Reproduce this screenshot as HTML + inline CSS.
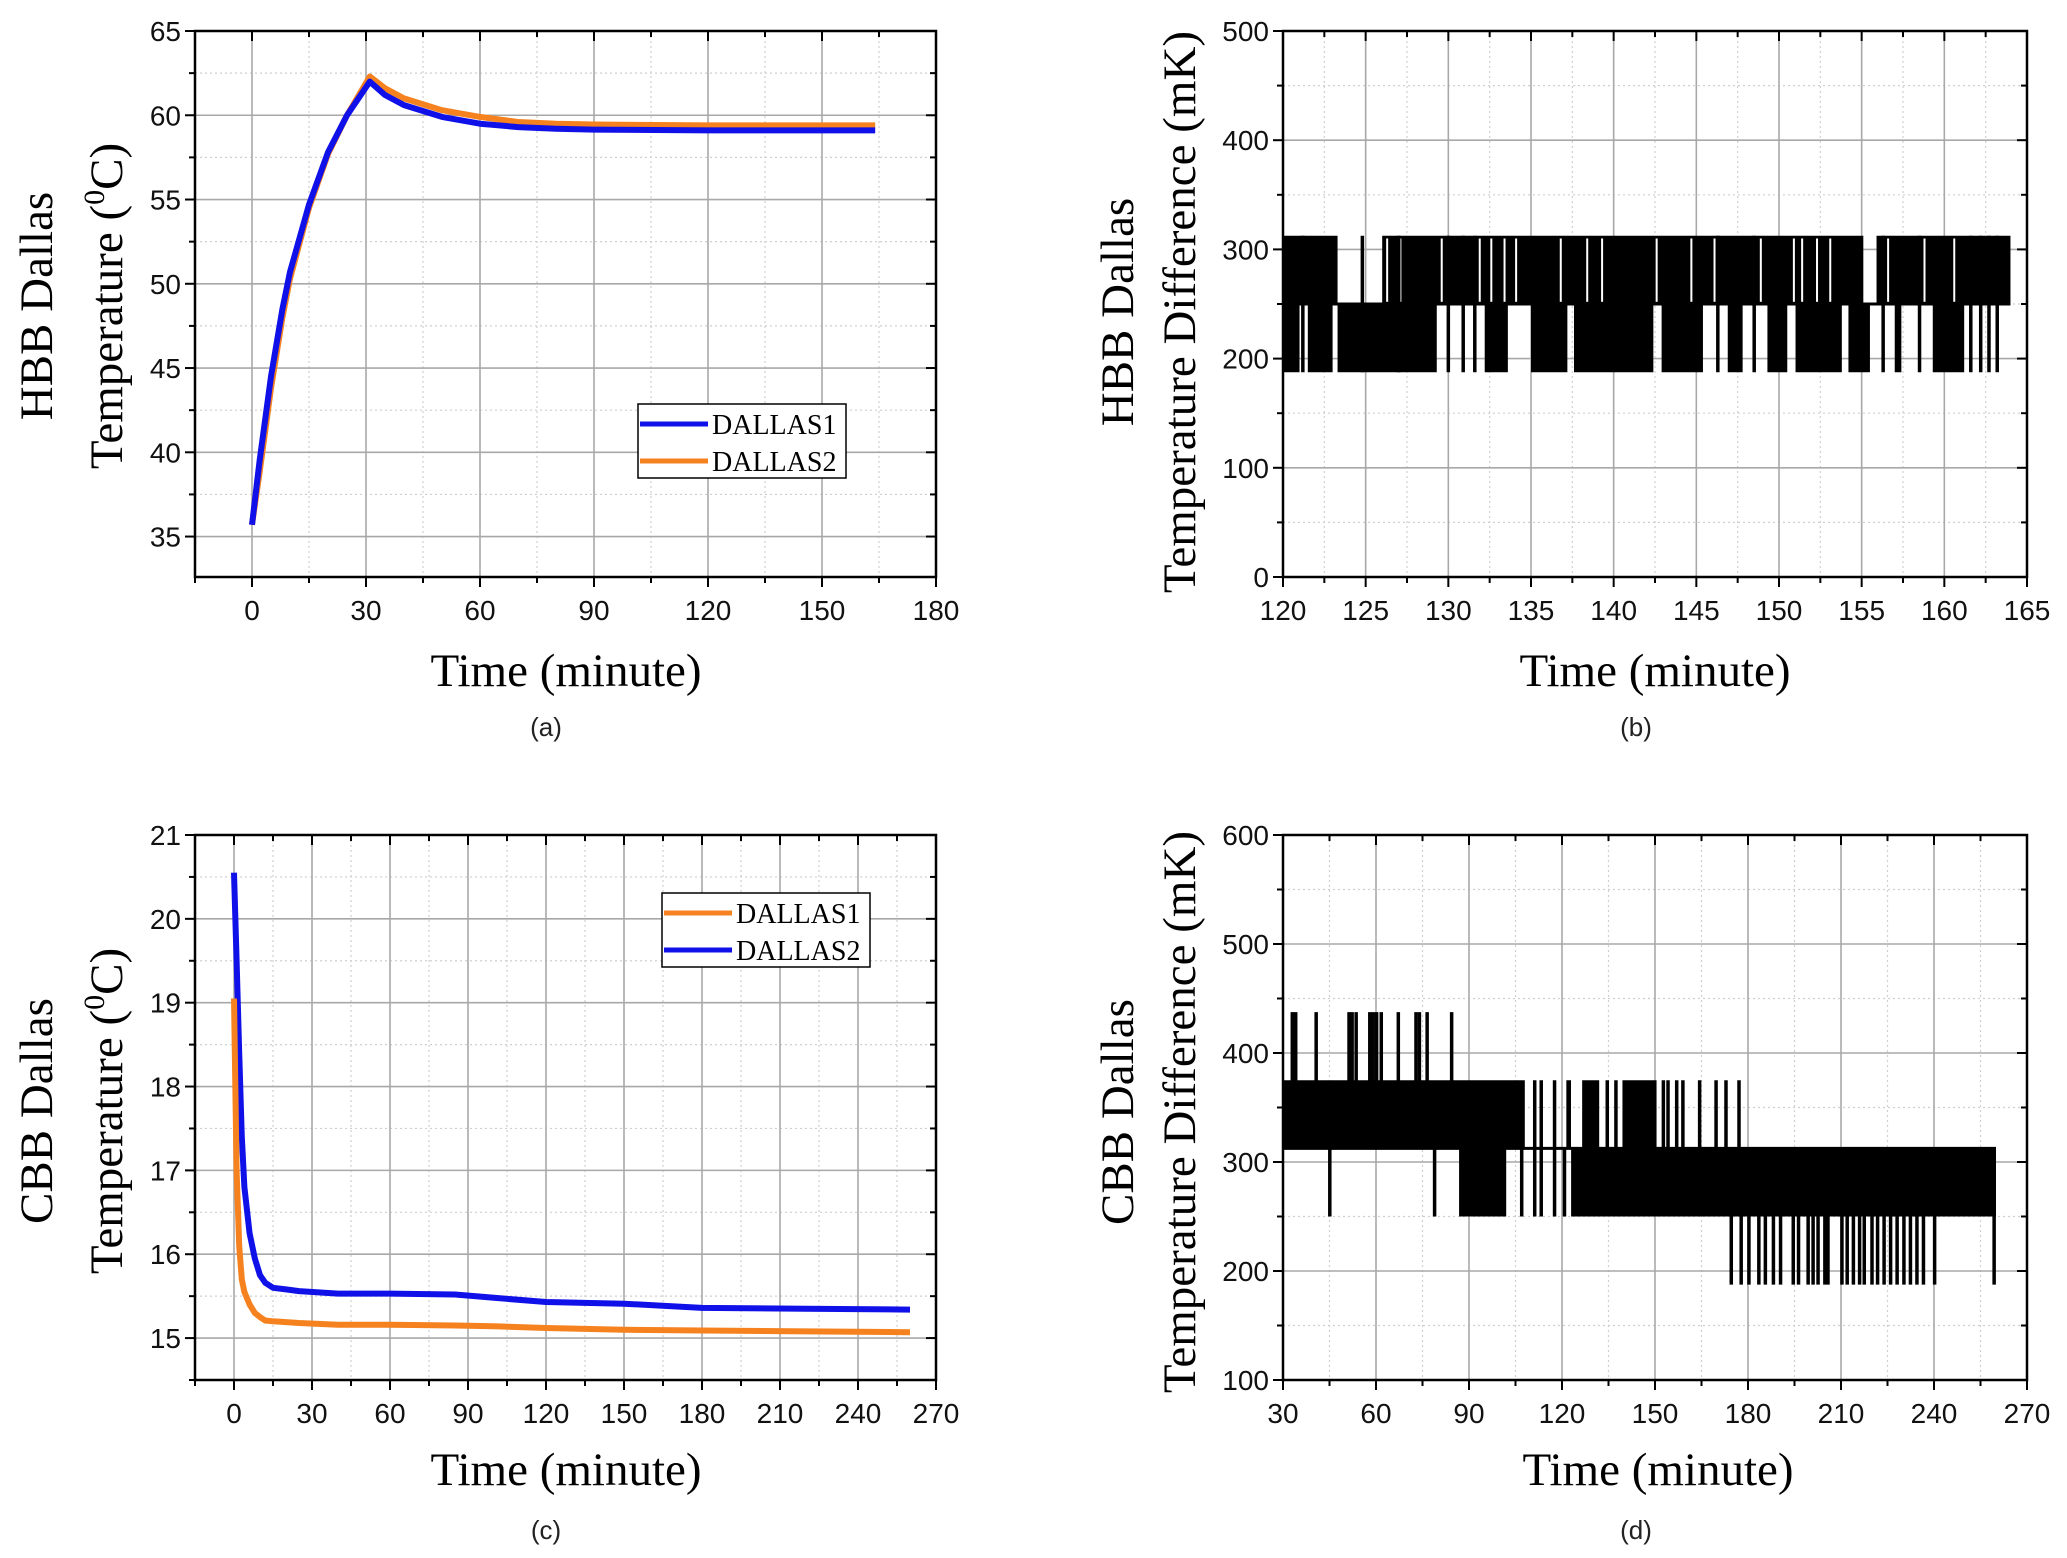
<!DOCTYPE html>
<html><head><meta charset="utf-8"><style>
html,body{margin:0;padding:0;background:#fff;}
svg{display:block;}
.tk{font-family:"Liberation Sans",sans-serif;font-size:28px;fill:#111;}
.ti{font-family:"Liberation Serif",serif;font-size:47px;fill:#000;}
.cap{font-family:"Liberation Sans",sans-serif;font-size:26px;fill:#222;}
.lg{font-family:"Liberation Serif",serif;font-size:28px;fill:#000;}
</style></head><body>
<svg id="fig" width="2067" height="1558" viewBox="0 0 2067 1558" xmlns="http://www.w3.org/2000/svg"></svg>
<script>
// ---- Panel (a) data ----
const aTime = [0,2,5,8,10,15,20,25,31,35,40,50,60,70,80,90,120,164];
const aDallas1 = [35.7,39.5,44.5,48.5,50.7,54.7,57.8,60.0,62.0,61.2,60.6,59.9,59.5,59.3,59.2,59.15,59.1,59.1];
const aDallas2 = [35.7,38.8,43.8,48.0,50.3,54.5,57.7,60.0,62.3,61.6,61.0,60.3,59.9,59.6,59.5,59.45,59.4,59.4];
const aXTicks = [0,30,60,90,120,150,180];
const aYTicks = [35,40,45,50,55,60,65];
// ---- Panel (c) data ----
const cTime = [0,1,2,3,4,6,8,10,12,15,20,25,40,60,85,100,120,150,180,220,260];
const cDallas1 = [19.05,17.0,16.1,15.7,15.55,15.4,15.3,15.25,15.21,15.2,15.19,15.18,15.16,15.16,15.15,15.14,15.12,15.1,15.09,15.08,15.07];
const cDallas2 = [20.55,19.5,18.4,17.4,16.8,16.25,15.95,15.75,15.66,15.6,15.58,15.56,15.53,15.53,15.52,15.48,15.43,15.41,15.36,15.35,15.34];
const cXTicks = [0,30,60,90,120,150,180,210,240,270];
const cYTicks = [15,16,17,18,19,20,21];
// ---- Panel (b) data (mK) ----
const bTopBands = [[120,123.3],[126,155.1],[155.9,164]];
const bTopRange = [250,312.5];
const bLowBands = [[120,121],[121.5,123],[123.3,129.3],[132.2,133.6],[135,137.2],[137.6,142.4],[142.9,145.4],[146.9,147.8],[149.3,150.5],[151,153.8],[154.2,155.5],[157,157.4],[159.3,161.2]];
const bLowRange = [187.5,250];
const bSpikesDown = [121.2,130,130.9,131.6,146.3,148.5,156.3,158.5,161.6,162.2,162.7,163.2];
const bSpikesUp = [124.8,127.0];
const bGapsTop = [126.3,127.1,129.6,131.9,132.6,133.4,134.1,136.8,138.4,139.3,142.6,144.7,146.1,148.9,150.9,151.4,152.3,153.1,156.6,158.8,160.6];
const bXTicks = [120,125,130,135,140,145,150,155,160,165];
const bYTicks = [0,100,200,300,400,500];
// ---- Panel (d) data (mK) ----
const dUpBands = [[30,108],[121.4,122.9],[126.5,132],[139.5,150.5]];
const dUpRange = [312.5,375];
const dLowBands = [[86.8,102],[124,260]];
const dLowRange = [250,312.5];
const dUpSpikes = [111.2,113.3,117.6,134.6,137.4,152.7,154.2,157,159,164.4,169.7,172.9,177.1];
const dHighSpikes = [33,34.1,40.7,51.3,52.3,53.6,58,59.1,60.2,61.7,67.2,72.9,74,76.5,84.4];
const dDownSpikes250 = [45.1,78.9,107,111.2,113.3,117.6,120.8,123.5];
const dDownSpikes187 = [174.6,177.8,180.3,183.5,185.6,188.2,190.5,194.6,196.3,199.4,201,202.6,204.8,205.8,210.3,212,214,216,217.5,220,221.8,223.9,226,228.1,230.3,232.4,234.5,236.6,240.2,259.4];
const dXTicks = [30,60,90,120,150,180,210,240,270];
const dYTicks = [100,200,300,400,500,600];

const NS="http://www.w3.org/2000/svg";
const svg=document.getElementById('fig');
function mk(tag,attrs,parent){const e=document.createElementNS(NS,tag);for(const k in attrs)e.setAttribute(k,attrs[k]);(parent||svg).appendChild(e);return e;}

function panel(id,P,xt,yt){
  const g=mk('g',{});
  
  
  const sx=v=>P.L+(v-P.x0)/(P.x1-P.x0)*(P.R-P.L);
  const sy=v=>P.B-(v-P.y0)/(P.y1-P.y0)*(P.B-P.T);
  const dx=xt[1]-xt[0], dy=yt[1]-yt[0];
  for(let v=xt[0]-dx/2; v<=P.x1; v+=dx){ if(v<=P.x0) continue; const l=mk('line',{x1:sx(v),x2:sx(v),y1:P.T,y2:P.B,stroke:'#cfcfcf','stroke-width':1.2,'stroke-dasharray':'2,3'},g);   }
  for(let v=yt[0]-dy/2; v<=P.y1; v+=dy){ if(v<=P.y0) continue; const l=mk('line',{x1:P.L,x2:P.R,y1:sy(v),y2:sy(v),stroke:'#cfcfcf','stroke-width':1.2,'stroke-dasharray':'2,3'},g);   }
  xt.forEach(v=>{ const l=mk('line',{x1:sx(v),x2:sx(v),y1:P.T,y2:P.B,stroke:'#a8a8a8','stroke-width':1.6},g);   });
  yt.forEach(v=>{ const l=mk('line',{x1:P.L,x2:P.R,y1:sy(v),y2:sy(v),stroke:'#a8a8a8','stroke-width':1.6},g);   });
  return {g,sx,sy,dx,dy};
}
function frame(id,P,xt,yt,ctx){
  const {g,sx,sy,dx,dy}=ctx;
  const f=mk('rect',{x:P.L,y:P.T,width:P.R-P.L,height:P.B-P.T,fill:'none',stroke:'#000','stroke-width':2.5},g);
   
  for(let v=xt[0]-dx/2; v<=P.x1+1e-9; v+=dx/2){ if(v<P.x0-1e-9) continue; const maj=xt.some(t=>Math.abs(t-v)<1e-6); const len=maj?10:6;
    const t1=mk('line',{x1:sx(v),x2:sx(v),y1:P.B,y2:P.B+len,stroke:'#000','stroke-width':2},g);  
    const t2=mk('line',{x1:sx(v),x2:sx(v),y1:P.T,y2:P.T+len,stroke:'#000','stroke-width':2},g);   }
  for(let v=yt[0]-dy/2; v<=P.y1+1e-9; v+=dy/2){ if(v<P.y0-1e-9) continue; const maj=yt.some(t=>Math.abs(t-v)<1e-6); const len=maj?10:6;
    const t1=mk('line',{x1:P.L-len,x2:P.L,y1:sy(v),y2:sy(v),stroke:'#000','stroke-width':2},g);  
    const t2=mk('line',{x1:P.R-len,x2:P.R,y1:sy(v),y2:sy(v),stroke:'#000','stroke-width':2},g);   }
  xt.forEach(v=>{ const t=mk('text',{x:sx(v),y:P.B+43,'text-anchor':'middle',class:'tk'},g); t.textContent=v;
      });
  yt.forEach(v=>{ const t=mk('text',{x:P.L-14,y:sy(v)+10,'text-anchor':'end',class:'tk'},g); t.textContent=v;
      });
}
function titles(id,xt,xc,xb,y1,y1x,y2parts,y2x,yc,cap,cx,cb){
  const t=mk('text',{x:xc,y:xb,'text-anchor':'middle',class:'ti'}); t.textContent=xt;
   
  const a=mk('text',{x:0,y:0,'text-anchor':'middle',class:'ti',transform:`translate(${y1x},${yc}) rotate(-90)`}); a.textContent=y1;
   
  const b=mk('text',{x:0,y:0,'text-anchor':'middle',class:'ti',transform:`translate(${y2x},${yc}) rotate(-90)`});
   
  y2parts.forEach(p=>{const s=mk('tspan',p.sup?{'font-size':30,dy:-18}:(p.after?{dy:18}:{}),b); s.textContent=p.t;});
  const c=mk('text',{x:cx,y:cb,'text-anchor':'middle',class:'cap'}); c.textContent=cap;
   
}
function series(ctx,xs,ys,color,name){
  const d=xs.map((x,i)=>(i?'L':'M')+ctx.sx(x).toFixed(1)+','+ctx.sy(ys[i]).toFixed(1)).join(' ');
  const p=mk('path',{d,fill:'none',stroke:color,'stroke-width':6,'stroke-linejoin':'round'},ctx.g);
   
}
function legend(id,x,y,w,h,items){
  const g=mk('g',{});
   
  mk('rect',{x,y,width:w,height:h,fill:'#fff',stroke:'#000','stroke-width':1.5},g);
  items.forEach((it,i)=>{const yy=y+20+i*37;
    const l=mk('line',{x1:x+2,x2:x+70,y1:yy,y2:yy,stroke:it.c,'stroke-width':5},g);
     
    const t=mk('text',{x:x+74,y:yy+10,class:'lg'},g); t.textContent=it.n;
     });
}
function bands(ctx,list,range,name){
  list.forEach(b=>{const r=mk('rect',{x:ctx.sx(b[0]),y:ctx.sy(range[1]),width:ctx.sx(b[1])-ctx.sx(b[0]),height:ctx.sy(range[0])-ctx.sy(range[1]),fill:'#000'},ctx.g);
     });
}
function spikes(ctx,list,lo,hi,name,color,w){
  list.forEach(t=>{const l=mk('line',{x1:ctx.sx(t),x2:ctx.sx(t),y1:ctx.sy(lo),y2:ctx.sy(hi),stroke:color||'#000','stroke-width':w||3.5},ctx.g);
     });
}

// Panel a
const PA={L:195,R:936,T:31,B:577,x0:-15,x1:180,y0:32.6,y1:65};
const ca=panel('a',PA,aXTicks,aYTicks);
series(ca,aTime,aDallas2,'#f5821f','dallas2-line');
series(ca,aTime,aDallas1,'#1010e8','dallas1-line');
frame('a',PA,aXTicks,aYTicks,ca);
legend('a',638,404,208,74,[{c:'#1010e8',n:'DALLAS1'},{c:'#f5821f',n:'DALLAS2'}]);
titles('a','Time (minute)',566,686,'HBB Dallas',52,[{t:'Temperature ('},{t:'0',sup:true},{t:'C)',after:true}],122,306,'(a)',546,736);

// Panel b
const PB={L:1283,R:2027,T:31,B:577,x0:120,x1:165,y0:0,y1:500};
const cb=panel('b',PB,bXTicks,bYTicks);
bands(cb,bTopBands,bTopRange,'diff-band');
bands(cb,bLowBands,bLowRange,'diff-band');
spikes(cb,bGapsTop,252,310,'diff-gap','#fff',2);
spikes(cb,bSpikesDown,187.5,312.5,'diff-spike');
spikes(cb,bSpikesUp,187.5,312.5,'diff-spike');
const bl=mk('line',{x1:cb.sx(120),x2:cb.sx(164),y1:cb.sy(250),y2:cb.sy(250),stroke:'#000','stroke-width':3},cb.g);
 
frame('b',PB,bXTicks,bYTicks,cb);
titles('b','Time (minute)',1655,686,'HBB Dallas',1133,[{t:'Temperature Difference (mK)'}],1195,312,'(b)',1636,736);

// Panel c
const PC={L:195,R:936,T:835,B:1380,x0:-15,x1:270,y0:14.5,y1:21};
const cc=panel('c',PC,cXTicks,cYTicks);
series(cc,cTime,cDallas2,'#1010e8','dallas2-line');
series(cc,cTime,cDallas1,'#f5821f','dallas1-line');
frame('c',PC,cXTicks,cYTicks,cc);
legend('c',662,893,208,74,[{c:'#f5821f',n:'DALLAS1'},{c:'#1010e8',n:'DALLAS2'}]);
titles('c','Time (minute)',566,1485,'CBB Dallas',52,[{t:'Temperature ('},{t:'0',sup:true},{t:'C)',after:true}],122,1111,'(c)',546,1539);

// Panel d
const PD={L:1283,R:2027,T:835,B:1380,x0:30,x1:270,y0:100,y1:600};
const cd=panel('d',PD,dXTicks,dYTicks);
bands(cd,dUpBands,dUpRange,'diff-band');
bands(cd,dLowBands,dLowRange,'diff-band');
spikes(cd,dUpSpikes,312.5,375,'diff-spike');
spikes(cd,dHighSpikes,312.5,437.5,'diff-spike');
spikes(cd,dDownSpikes250,250,312.5,'diff-spike');
spikes(cd,dDownSpikes187,187.5,250,'diff-spike');
const dl=mk('line',{x1:cd.sx(30),x2:cd.sx(260),y1:cd.sy(312.5),y2:cd.sy(312.5),stroke:'#000','stroke-width':3},cd.g);
 
frame('d',PD,dXTicks,dYTicks,cd);
titles('d','Time (minute)',1658,1485,'CBB Dallas',1133,[{t:'Temperature Difference (mK)'}],1195,1112,'(d)',1636,1539);
</script>
</body></html>
